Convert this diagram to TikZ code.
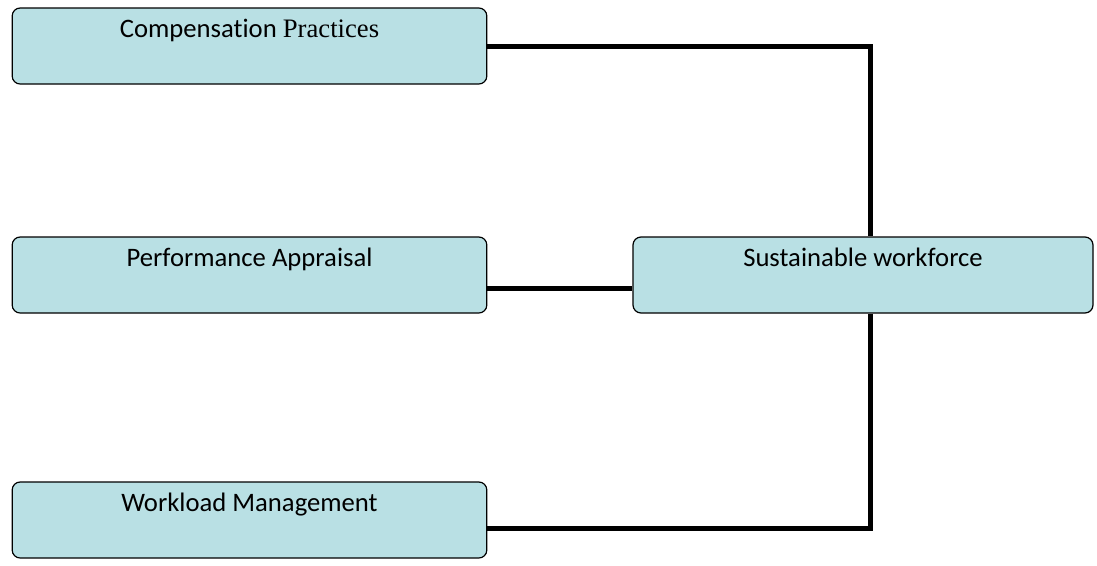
\documentclass[tikz,border=0pt]{standalone}
\usepackage{fontspec}
\setmainfont[Ligatures={NoCommon}]{Carlito}
\newfontfamily\serifpart{Liberation Serif}
\usetikzlibrary{positioning, calc}
\definecolor{boxcyan}{RGB}{185,224,228}

\begin{document}
\begin{tikzpicture}[x=0.75pt, y=-0.75pt,
  factor/.style={draw, fill=boxcyan, rounded corners=6pt, line width=0.9pt,
                 minimum width=356pt, minimum height=57pt, inner sep=0pt,
                 text height=22pt, text depth=35pt,
                 font=\fontsize{20}{24}\selectfont},
  outcome/.style={factor, minimum width=345pt},
  link/.style={line width=3.75pt, line join=miter, line cap=butt}
]
\useasboundingbox (0,0) rectangle (1097,565);
\node[factor] (comp) at (249.5,46)  {Compensation {\serifpart Practices}};
\node[factor] (perf) at (249.5,275) {Performance Appraisal};
\node[factor] (work) at (249.5,520) {Workload Management};
\node[outcome] (sust) at (863,275)  {Sustainable workforce};
% junction points of the connectors
\coordinate (jtop) at (870,46);
\coordinate (jmid) at (560,288);
\coordinate (jbot) at (870,528);
\draw[link] (comp.east) -- (jtop) -- (sust.north -| jtop);
\draw[link] (perf.east |- jmid) -- (sust.west |- jmid);
\draw[link] (sust.south -| jbot) -- (jbot) -- (work.east |- jbot);
\end{tikzpicture}
\end{document}
